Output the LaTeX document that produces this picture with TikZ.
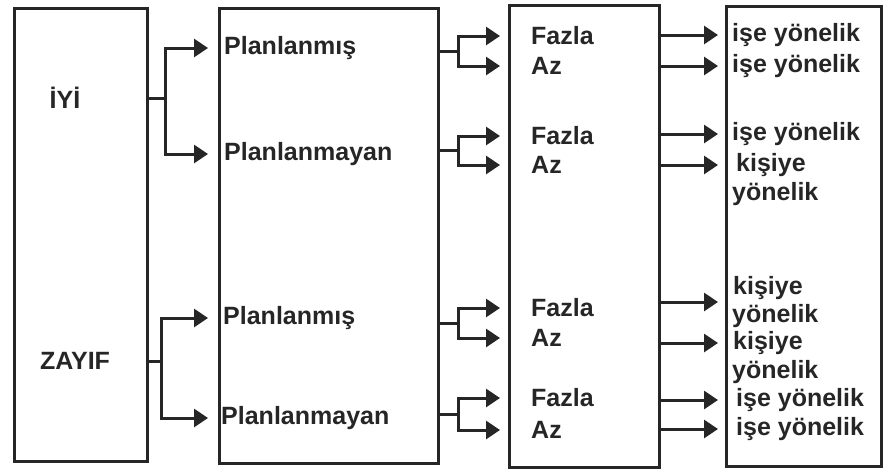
\documentclass[tikz,border=0pt]{standalone}
\usepackage{fontspec}
\setmainfont{Liberation Sans}
\usetikzlibrary{arrows.meta,calc,positioning}

\tikzset{
  frame/.style={draw=black!85,line width=3pt,anchor=north west,inner sep=0pt},
  lbl/.style={anchor=west,inner sep=0pt,text=black!85,font=\bfseries\fontsize{25}{29}\selectfont},
  line/.style={draw=black!85,line width=3pt},
  arr/.style={line,-{Triangle[length=14pt,width=18pt]}},
}

\begin{document}
\begin{tikzpicture}[x=1pt,y=-1pt]
\useasboundingbox (0,0) rectangle (883,469);
    % the four columns
\node[frame,minimum width=133pt,minimum height=453pt] (b1) at (13,7) {};
\node[frame,minimum width=219pt,minimum height=455pt] (b2) at (218,7) {};
\node[frame,minimum width=150pt,minimum height=462pt] (b3) at (508,4) {};
\node[frame,minimum width=155pt,minimum height=460pt] (b4) at (725,5) {};

    % first column
\node[lbl,anchor=center] (iyi) at (65,98) {İYİ};
\node[lbl,anchor=center] (zayif) at (75,361) {ZAYIF};

    % second column
\node[lbl] (pa1) at (224,48) {Planlanmış};
\node[lbl] (pb1) at (224,154) {Planlanmayan};
\node[lbl] (pa2) at (223,318) {Planlanmış};
\node[lbl] (pb2) at (221,418) {Planlanmayan};

    % third column
\node[lbl] (f1) at (531,36) {Fazla};
\node[lbl] (a1) at (531,66) {Az};
\node[lbl] (f2) at (531,136) {Fazla};
\node[lbl] (a2) at (531,165) {Az};
\node[lbl] (f3) at (531,308) {Fazla};
\node[lbl] (a3) at (531,338) {Az};
\node[lbl] (f4) at (531,398) {Fazla};
\node[lbl] (a4) at (531,430) {Az};

    % fourth column
\node[lbl] (w1) at (732,35) {işe yönelik};
\node[lbl] (w2) at (732,66) {işe yönelik};
\node[lbl] (w3) at (732,134) {işe yönelik};
\node[lbl] (k4) at (736,165) {kişiye};
\node[lbl] (y4) at (732,194) {yönelik};
\node[lbl] (k5) at (733,288) {kişiye};
\node[lbl] (y5) at (732,316) {yönelik};
\node[lbl] (k6) at (733,343) {kişiye};
\node[lbl] (y6) at (732,372) {yönelik};
\node[lbl] (w7) at (736,400) {işe yönelik};
\node[lbl] (w8) at (736,429) {işe yönelik};

    % first -> second
\draw[line] (b1.east |- iyi) -- ++(16,0) coordinate (j1);
\draw[arr,shorten >=10pt] (j1) |- (b2.west |- pa1);
\draw[arr,shorten >=10pt] (j1) |- (b2.west |- pb1);
\draw[line] (b1.east |- zayif) -- ++(12,0) coordinate (j2);
\draw[arr,shorten >=10pt] (j2) |- (b2.west |- pa2);
\draw[arr,shorten >=10pt] (j2) |- (b2.west |- pb2);

    % second -> third
\coordinate (m1) at ($(f1)!.5!(a1)$);
\coordinate (m2) at ($(f2)!.5!(a2)$);
\coordinate (m3) at ($(f3)!.5!(a3)$);
\coordinate (m4) at ($(f4)!.5!(a4)$);
\draw[line] (b2.east |- m1) -- ++(18,0) coordinate (k1);
\draw[arr,shorten >=8pt] (k1) |- (b3.west |- f1);
\draw[arr,shorten >=8pt] (k1) |- (b3.west |- a1);
\draw[line] (b2.east |- m2) -- ++(18,0) coordinate (k2);
\draw[arr,shorten >=8pt] (k2) |- (b3.west |- f2);
\draw[arr,shorten >=8pt] (k2) |- (b3.west |- a2);
\draw[line] (b2.east |- m3) -- ++(18,0) coordinate (k3);
\draw[arr,shorten >=8pt] (k3) |- (b3.west |- f3);
\draw[arr,shorten >=8pt] (k3) |- (b3.west |- a3);
\draw[line] (b2.east |- m4) -- ++(18,0) coordinate (k4j);
\draw[arr,shorten >=8pt] (k4j) |- (b3.west |- f4);
\draw[arr,shorten >=8pt] (k4j) |- (b3.west |- a4);

    % third -> fourth
\coordinate (m5) at ($(k5)!.5!(y5)$);
\draw[arr,shorten >=7pt] (b3.east |- w1) -- (b4.west |- w1);
\draw[arr,shorten >=7pt] (b3.east |- w2) -- (b4.west |- w2);
\draw[arr,shorten >=7pt] (b3.east |- w3) -- (b4.west |- w3);
\draw[arr,shorten >=7pt] (b3.east |- k4) -- (b4.west |- k4);
\draw[arr,shorten >=7pt] (b3.east |- m5) -- (b4.west |- m5);
\draw[arr,shorten >=7pt] (b3.east |- k6) -- (b4.west |- k6);
\draw[arr,shorten >=7pt] (b3.east |- w7) -- (b4.west |- w7);
\draw[arr,shorten >=7pt] (b3.east |- w8) -- (b4.west |- w8);
\end{tikzpicture}
\end{document}
